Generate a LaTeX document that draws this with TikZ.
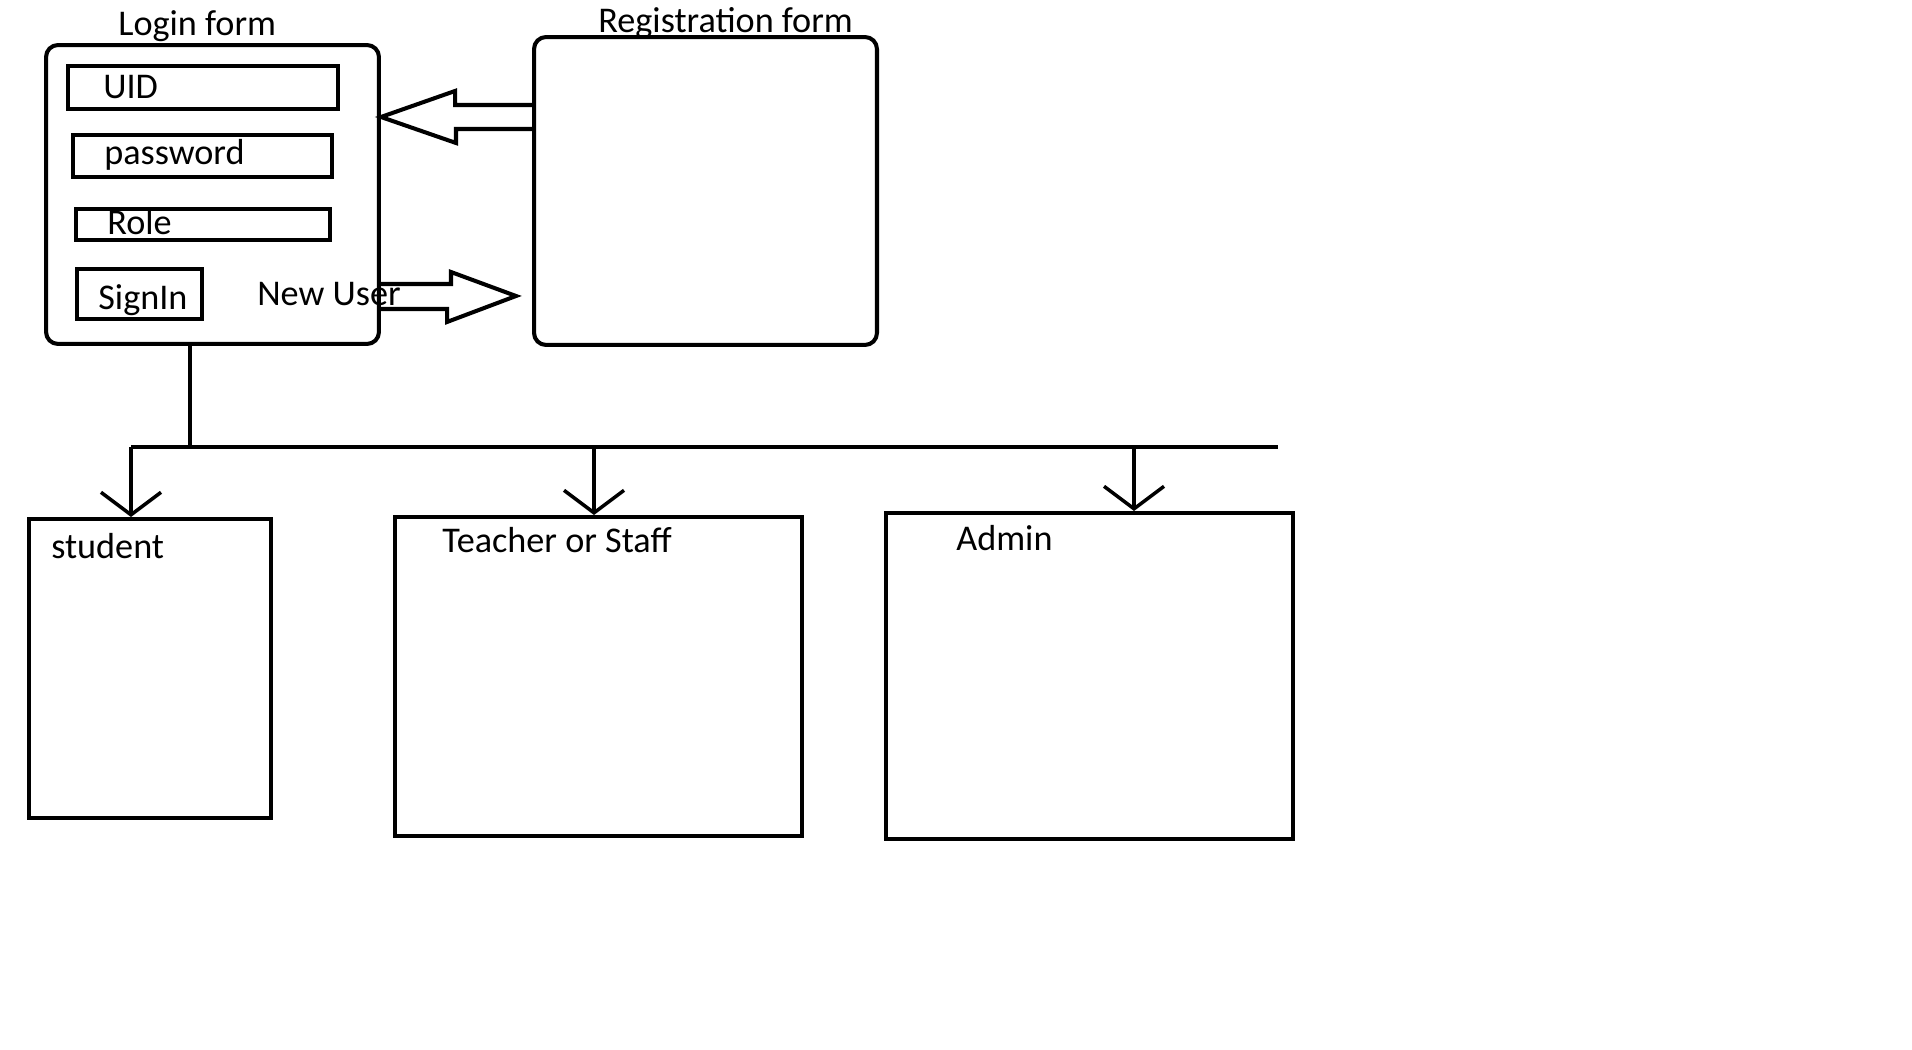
\documentclass[tikz,border=0pt]{standalone}
\usepackage{fontspec}
\setmainfont{Carlito}
\usetikzlibrary{arrows.meta, positioning, calc}

\begin{document}
\begin{tikzpicture}[
    x=0.02cm, y=-0.02cm,
    every node/.style={font=\fontsize{20.6}{24}\selectfont, inner sep=0pt},
    form/.style={rectangle, draw, line width=2.3pt, rounded corners=0.24cm},
    field/.style={rectangle, draw, line width=2.3pt},
    panel/.style={rectangle, draw, line width=2.3pt},
    caption/.style={anchor=base west},
    wire/.style={line width=2pt},
    arrow/.style={line width=2pt, -{Straight Barb[length=0.45cm, width=1.2cm, line width=2pt]}},
    blockarrow/.style={line width=2.3pt, line join=miter}
]
    \useasboundingbox (0,0) rectangle (1912,1050);

    % forms
    \node[form, minimum width=6.66cm, minimum height=5.98cm] (login) at (212.5,194.5) {};
    \node[form, minimum width=6.86cm, minimum height=6.16cm] (reg) at (705.5,191) {};
    \node[caption] (logintxt) at (118,36) {Login form};
    \node[caption] (regtxt) at (598,33) {Registration form};

    % login fields
    \node[field, minimum width=5.4cm, minimum height=0.86cm] (uid) at (203,87.5) {};
    \node[field, minimum width=5.18cm, minimum height=0.84cm] (pwd) at (202.5,156) {};
    \node[field, minimum width=5.08cm, minimum height=0.62cm] (role) at (203,224.5) {};
    \node[field, minimum width=2.5cm, minimum height=1.0cm] (signin) at (139.5,294) {};
    \node[caption] (uidtxt) at (103,99) {UID};
    \node[caption] (pwdtxt) at (104,165) {password};
    \node[caption] (roletxt) at (107,235) {Role};
    \node[caption] (signintxt) at (98,310) {SignIn};
    \node[caption] (newuser) at (257,306) {New User};

    % user panels
    \node[panel, minimum width=4.84cm, minimum height=5.98cm] (student) at (150,668.5) {};
    \node[panel, minimum width=8.14cm, minimum height=6.38cm] (teacher) at (598.5,676.5) {};
    \node[panel, minimum width=8.14cm, minimum height=6.52cm] (admin) at (1089.5,676) {};
    \node[caption] (studenttxt) at (51,558) {student};
    \node[caption] (teachertxt) at (442,552) {Teacher or Staff};
    \node[caption] (admintxt) at (956,550) {Admin};

    % block arrows between the forms
    \draw[blockarrow] (reg.west |- 0,105) -- ++(-77,0) -- ++(0,-14)
        -- (login.east |- 0,117) -- ++(75,26) -- ++(0,-14) -- (reg.west |- 0,129);
    \draw[blockarrow] (login.east |- 0,284) -- ++(70,0) -- ++(0,-12)
        -- ($(reg.west |- 0,296)+(-16,0)$) -- ++(-69,26) -- ++(0,-13) -- (login.east |- 0,309);

    % bus to the user panels
    \coordinate (jn) at (190,447);
    \coordinate (busL) at (131,447);
    \coordinate (busT) at (594,447);
    \coordinate (busA) at (1134,447);
    \coordinate (busR) at (1278,447);
    \draw[wire] (login.south -| jn) -- (jn);
    \draw[wire] (busL) -- (busR);
    \draw[arrow] (busL) -- (busL |- student.north);
    \draw[arrow] (busT) -- (busT |- teacher.north);
    \draw[arrow] (busA) -- (busA |- admin.north);
\end{tikzpicture}
\end{document}
